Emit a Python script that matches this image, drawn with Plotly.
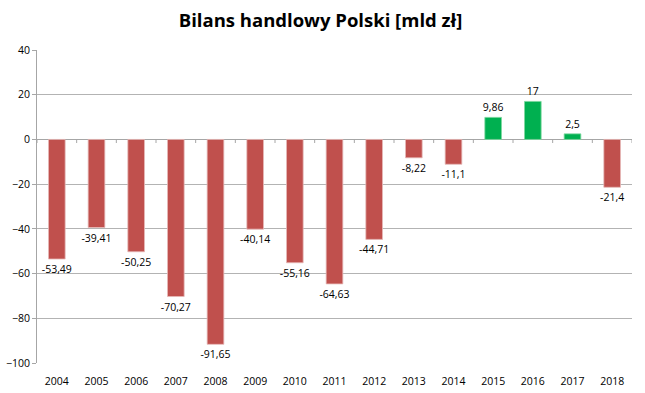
import plotly.graph_objects as go

years = ["2004", "2005", "2006", "2007", "2008", "2009", "2010", "2011",
         "2012", "2013", "2014", "2015", "2016", "2017", "2018"]
balance = [-53.49, -39.41, -50.25, -70.27, -91.65, -40.14, -55.16, -64.63,
           -44.71, -8.22, -11.1, 9.86, 17, 2.5, -21.4]

RED = "#C0504D"
GREEN = "#00B050"
colors = [GREEN if v > 0 else RED for v in balance]
edges = ["#E6B9B8" if v <= 0 else "#7FD8A0" for v in balance]
labels = [("%g" % v).replace(".", ",") for v in balance]

FONT = "Open Sans, Liberation Sans, sans-serif"

fig = go.Figure()
fig.add_trace(go.Bar(
    x=years, y=balance,
    marker=dict(color=colors, line=dict(color=edges, width=0.8)),
    width=0.42,
    text=labels, textposition="outside", constraintext="none",
    textfont=dict(family=FONT, size=10.5, color="#000000"),
    cliponaxis=False, hoverinfo="skip",
))

# category tick marks on the zero line (between categories)
for i in range(len(years) + 1):
    fig.add_shape(type="line", xref="x", yref="y",
                  x0=i - 0.5, x1=i - 0.5, y0=0, y1=-1.6,
                  line=dict(color="#A6A6A6", width=1))

fig.update_layout(
    width=645, height=393,
    margin=dict(l=37, r=13, t=50, b=30, autoexpand=False),
    paper_bgcolor="white", plot_bgcolor="white",
    showlegend=False,
    title=dict(text="<b>Bilans handlowy Polski [mld zł]</b>",
               x=0.497, xanchor="center", y=0.948, yanchor="middle",
               font=dict(family=FONT, size=18.5, color="#000000")),
    font=dict(family=FONT, size=10.5, color="#000000"),
)
fig.update_yaxes(range=[-100, 40], dtick=20, showgrid=True, gridcolor="#B3B3B3", gridwidth=1,
                 zeroline=True, zerolinecolor="#A6A6A6", zerolinewidth=1,
                 showline=True, linecolor="#A6A6A6", ticks="outside", ticklen=4,
                 tickcolor="#A6A6A6", tickfont=dict(size=10.5, color="#000000"),
                 automargin=False, fixedrange=True)
fig.update_xaxes(showgrid=False, showline=False, ticks="outside", ticklen=8,
                 tickcolor="rgba(0,0,0,0)", tickfont=dict(size=10.5, color="#000000"),
                 range=[-0.5, len(years) - 0.5], automargin=False, fixedrange=True)

fig.write_html("out.html", config={"displayModeBar": False},
               post_script="document.body.style.margin='0';")
